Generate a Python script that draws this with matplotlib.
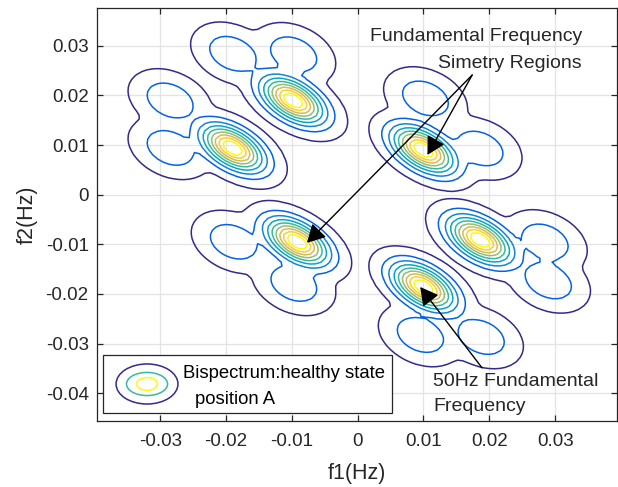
import numpy as np
import matplotlib.pyplot as plt
from matplotlib.patches import Rectangle, Ellipse

plt.rcParams['font.family'] = ['Liberation Sans', 'DejaVu Sans']
plt.rcParams['axes.unicode_minus'] = False

# main bispectrum peaks (f1, f2)
peak_f1 = [0.0100, -0.0098, -0.0190, -0.0092, 0.0100, 0.0186]
peak_f2 = [0.0090, 0.0190, 0.0094, -0.0095, -0.0186, -0.0091]
peak_amp = [1.0, 1.0, 1.0, 1.0, 1.0, 1.0]

# small side lobes around each peak
side_f1 = [0.0103, 0.0186, -0.0190, -0.0097, -0.0285, -0.0285,
           -0.0189, -0.0097, 0.0095, 0.0188, 0.0285, 0.0290]
side_f2 = [0.0194, 0.0093, 0.0284, 0.0283, 0.0190, 0.0094,
           -0.0095, -0.0180, -0.0283, -0.0287, -0.0094, -0.0175]
side_amp = [0.24, 0.24, 0.24, 0.24, 0.24, 0.24,
            0.24, 0.24, 0.24, 0.24, 0.24, 0.24]

levels = [0.05, 0.15, 0.25, 0.35, 0.45, 0.55, 0.65, 0.75, 0.85]
xticks = [-0.03, -0.02, -0.01, 0, 0.01, 0.02, 0.03]
yticks = [-0.04, -0.03, -0.02, -0.01, 0, 0.01, 0.02, 0.03]

# parula-like colours for the contour levels
parula = ['#352a87', '#0363e1', '#1485d4', '#06a7c6', '#38b99e',
          '#92bf73', '#d9ba56', '#fcce2e', '#f9fb0e']
txt = '#262626'


def bump(F1, F2, c1, c2, amp, s_major, s_minor, q=2.0, angle=-45):
    th = np.deg2rad(angle)
    dx = F1 - c1
    dy = F2 - c2
    u = dx * np.cos(th) + dy * np.sin(th)
    v = -dx * np.sin(th) + dy * np.cos(th)
    r = np.sqrt((u / s_major) ** 2 + (v / s_minor) ** 2)
    return amp * np.exp(-0.5 * r ** q)


f = np.linspace(-0.04, 0.04, 101)
F1, F2 = np.meshgrid(f, f)
# soft maximum of the lobes so that they stay apart at the higher levels
p = 3
B = np.zeros_like(F1)
for c1, c2, a in zip(peak_f1, peak_f2, peak_amp):
    B += bump(F1, F2, c1, c2, a, 0.00356, 0.0020, q=1.7) ** p
for c1, c2, a in zip(side_f1, side_f2, side_amp):
    B += bump(F1, F2, c1, c2, a, 0.0041, 0.0030) ** p
B = B ** (1 / p)

fig = plt.figure(figsize=(6.18, 4.87), dpi=100)
ax = fig.add_axes([97 / 618, 66 / 487, 520 / 618, 413 / 487])

ax.contour(F1, F2, B, levels=levels, colors=parula, linewidths=1.1)

ax.set_xlim(-0.0396, 0.0394)
ax.set_ylim(-0.0456, 0.0376)
ax.set_xticks(xticks)
ax.set_yticks(yticks)
ax.xaxis.set_major_formatter(plt.FuncFormatter(lambda v, p: '%g' % v))
ax.yaxis.set_major_formatter(plt.FuncFormatter(lambda v, p: '%g' % v))
ax.tick_params(direction='in', length=4.5, width=0.9, color=txt,
               labelcolor=txt, labelsize=13.5, top=True, right=True)
ax.tick_params(axis='x', pad=9)
ax.tick_params(axis='y', pad=6)
ax.grid(True, color='#e3e3e3', linewidth=0.9)
ax.set_axisbelow(True)
for s in ax.spines.values():
    s.set_color(txt)
    s.set_linewidth(0.9)

ax.set_xlabel('f1(Hz)', fontsize=15.5, color=txt, va='center')
ax.set_ylabel('f2(Hz)', fontsize=15.5, color=txt, va='center')
ax.xaxis.set_label_coords(0.5, -0.128)
ax.yaxis.set_label_coords(-0.135, 0.5)

# annotations
ax.text(0.0341, 0.0318, 'Fundamental Frequency', ha='right', va='center',
        fontsize=14, color=txt)
ax.text(0.0341, 0.0265, 'Simetry Regions', ha='right', va='center',
        fontsize=14, color=txt)
arrow = dict(arrowstyle='-|>,head_length=0.55,head_width=0.3', color='k',
             lw=1, shrinkA=0, shrinkB=0, mutation_scale=20)
ax.annotate('', xy=(0.0106, 0.0080), xytext=(0.0174, 0.0241), arrowprops=arrow)
ax.annotate('', xy=(-0.0077, -0.0097), xytext=(0.0174, 0.0241), arrowprops=arrow)
ax.text(0.0115, -0.0377, '50Hz Fundamental', ha='left', va='center',
        fontsize=14, color=txt)
ax.text(0.0115, -0.0427, 'Frequency', ha='left', va='center',
        fontsize=14, color=txt)
ax.annotate('', xy=(0.0095, -0.0186), xytext=(0.0189, -0.0349), arrowprops=arrow)

# legend box drawn by hand
ax.add_patch(Rectangle((0.0115, 0.0194), 0.5558, 0.1405, transform=ax.transAxes,
                       facecolor='white', edgecolor=txt, lw=0.9, zorder=5))
for w, h, c in [(0.119, 0.097, parula[0]), (0.079, 0.056, parula[4]),
                (0.040, 0.031, parula[8])]:
    ax.add_patch(Ellipse((0.0962, 0.0896), w, h, transform=ax.transAxes,
                         fill=False, edgecolor=c, lw=1.1, zorder=6))
ax.text(0.165, 0.116, 'Bispectrum:healthy state', transform=ax.transAxes,
        ha='left', va='center', fontsize=13.3, color='k', zorder=6)
ax.text(0.188, 0.053, 'position A', transform=ax.transAxes,
        ha='left', va='center', fontsize=13.3, color='k', zorder=6)

fig.savefig('out.png', dpi=100)
